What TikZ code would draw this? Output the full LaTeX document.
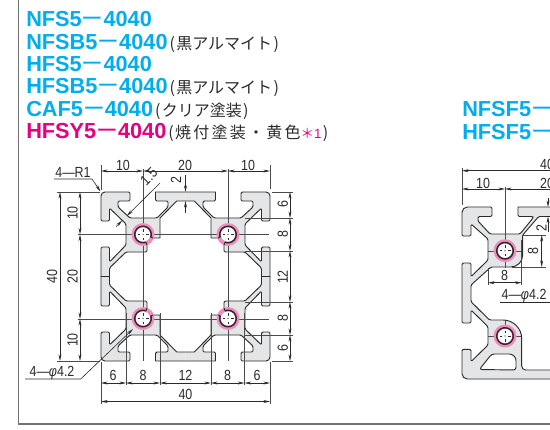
\documentclass[tikz,border=0pt]{standalone}
\usepackage{fontspec}
\usetikzlibrary{arrows.meta}
\setmainfont{Liberation Sans}
\newfontfamily\cjk{Noto Sans CJK JP}
\newfontfamily\dimf[FakeStretch=0.85]{Liberation Sans}
\definecolor{cy}{HTML}{00AEEF}
\definecolor{mg}{HTML}{E6007E}
\definecolor{prof}{HTML}{E4E5E6}
\definecolor{ink}{HTML}{2B2B2B}
\definecolor{pk}{HTML}{F28CBE}
\newcommand{\dd}{{\cjk\mdseries ー}}
\newcommand{\jp}[1]{\kern1.5pt{\cjk\mdseries\fontsize{12}{13}\selectfont\color{ink}(\kern1pt#1\kern1pt)}}
\newcommand{\ks}{\kern1.7pt}
\tikzset{
  x=0.75pt,y=-0.75pt,
  ttl/.style={anchor=base west,inner sep=0pt,text=cy,font=\bfseries\fontsize{16.3}{18}\selectfont},
  dimt/.style={inner sep=0pt,text=ink,font=\dimf\fontsize{11}{12}\selectfont},
  pline/.style={draw=ink,line width=0.7pt,line join=round},
  dl/.style={draw=ink,line width=0.45pt},
  ar/.style={dl,{Stealth[length=5pt,width=2.2pt]}-{Stealth[length=5pt,width=2.2pt]}},
  a1/.style={dl,-{Stealth[length=5pt,width=2.2pt]}},
  ext/.style={draw=ink!85,line width=0.35pt},
  box/.style={draw=black!55,line width=0.9pt}
}
\newcommand{\quadpath}{
  (185.5,192) -- (155.5,192) [rounded corners=1pt] -- (155.5,201) -- (168,201) -- (168,207) -- (157,218) -- (130,218) -- (118,207) -- (118,201) -- (130,201) -- (130,192) [rounded corners=3pt] -- (101,192) [rounded corners=1pt] -- (101,221) -- (109.5,221) -- (109.5,208) -- (126,224) -- (126,245) -- (109.5,262) -- (109.5,247) -- (101,247) [sharp corners] -- (101,276.5) -- (109.5,276.5) [rounded corners=1pt] -- (109.5,268) -- (126,252) -- (147,252) [sharp corners] -- (147,245)
}
\newcommand{\quadfill}{\fill[prof] \quadpath -- (153,238) -- (160,238) -- (160,218) -- (176.7,201) -- (185.5,201) -- cycle;}
\newcommand{\quadline}{\draw[pline] \quadpath; \draw[pline] (153,238) -- (160,238) -- (160,218) -- (176.7,201) -- (185.5,201);}
\newcommand{\holegeneric}[4]{% cx cy startangle endangle
  \fill[pk] (#1,#2) circle[radius=8.6pt];
  \fill[white] (#1,#2) circle[radius=5.4pt];
  \draw[ink,line width=0.35pt] ({#1-5.5},#2) -- ({#1-3},#2) ({#1+3},#2) -- ({#1+5.5},#2) (#1,{#2-5.5}) -- (#1,{#2-3}) (#1,{#2+3}) -- (#1,{#2+5.5});
  \fill[ink] (#1,#2) circle[radius=0.5pt];
  \draw[ink,line width=1.1pt] plot[domain=#3:#4,samples=40] ({#1+8.2*cos(\x)},{#2+8.2*sin(\x)});
}
\newcommand{\allfour}[1]{%
  \begin{scope}#1\end{scope}
  \begin{scope}[shift={(371,0)},xscale=-1]#1\end{scope}
  \begin{scope}[shift={(0,553)},yscale=-1]#1\end{scope}
  \begin{scope}[shift={(371,553)},xscale=-1,yscale=-1]#1\end{scope}
}
\begin{document}
\begin{tikzpicture}
\clip (0,0) rectangle (550,429);
\fill[white] (0,0) rectangle (550,429);
% frame
\draw[box] (18.5,-2) -- (18.5,424) -- (552,424);
% titles
\node[ttl] (t1) at (26,26.7) {NFS5\dd 4040};
\node[ttl] (t2) at (26,49) {NFSB5\dd 4040\jp{黒アルマイト}};
\node[ttl] (t3) at (26,71.4) {HFS5\dd 4040};
\node[ttl] (t4) at (26,93.8) {HFSB5\dd 4040\jp{黒アルマイト}};
\node[ttl] (t5) at (26,116.2) {CAF5\dd 4040\jp{クリア塗装}};
\node[ttl,text=mg] (t6) at (26,138.6) {HFSY5\dd 4040\jp{焼\ks 付\ks 塗\ks 装\ks ・\ks 黄\ks 色{\color{mg}\fontsize{10}{11}\selectfont ＊}{\fontspec{Liberation Sans}\color{mg}\fontsize{10}{11}\selectfont 1}}};
\node[ttl] (t7) at (462,116.7) {NFSF5\dd 4040};
\node[ttl] (t8) at (462,139.3) {HFSF5\dd 4040};
% left profile
\allfour{\quadfill}
\allfour{\quadline}
% extension / centre lines
\draw[ext] (143,169) -- (143,361) (228,169) -- (228,361);
\draw[ext] (78,234.5) -- (269,234.5) (78,319) -- (269,319);
\draw[ext] (101,165) -- (101,190) (270,165) -- (270,189);
\draw[ext] (57,192) -- (100,192) (57,361) -- (100,361);
\draw[ext] (272,192) -- (293,192) (272,361) -- (293,361);
\draw[ext] (245,218) -- (293,218) (245,251) -- (293,251) (245,302) -- (293,302) (245,335) -- (293,335);
\draw[ext] (126,313) -- (126,385) (160,313) -- (160,385) (211,313) -- (211,385) (244.5,313) -- (244.5,385);
\draw[ext] (101,362) -- (101,404) (270,362) -- (270,404);
% holes
\allfour{\holegeneric{143}{234.5}{69}{379}
  \draw[ink,line width=0.7pt] (145.9,242) -- (147,245) (150.6,237) -- (153,238);}
% dims top
\draw[ar] (101,171) -- (143,171);
\draw[ar] (143,171) -- (228,171);
\draw[ar] (228,171) -- (270,171);
\node[dimt] (n10a) at (123,165) {10};
\node[dimt] (n20a) at (185,165) {20};
\node[dimt] (n10b) at (248,165) {10};
% 4-R1
\node[dimt] (r1) at (73,172) {4—R1};
\draw[a1] (54,179) -- (92,179) -- (100.5,191.5);
% left dims
\draw[ar] (60,192) -- (60,361);
\draw[ar] (80,192) -- (80,234.5);
\draw[ar] (80,234.5) -- (80,319);
\draw[ar] (80,319) -- (80,361);
\node[dimt,rotate=90] (n40l) at (52,276.5) {40};
\node[dimt,rotate=90] (n10l) at (72.5,213) {10};
\node[dimt,rotate=90] (n20l) at (72.5,276.5) {20};
\node[dimt,rotate=90] (n10m) at (72.5,340) {10};
% 1.5
\draw[a1] (116,226.7) -- (122.1,220.6);
\draw[a1] (160,183) -- (126.85,215.85);
\node[dimt,rotate=45] (n15) at (149,176.5) {1.5};
% 2
\draw[a1] (185.5,175) -- (185.5,192);
\draw[a1] (185.5,213) -- (185.5,201);
\node[dimt,rotate=90] (n2) at (176,180) {2};
% right dims
\draw[ar] (290,192) -- (290,218);
\draw[ar] (290,218) -- (290,251);
\draw[ar] (290,251) -- (290,302);
\draw[ar] (290,302) -- (290,335);
\draw[ar] (290,335) -- (290,361);
\node[dimt,rotate=90] (r6a) at (282.7,204) {6};
\node[dimt,rotate=90] (r8a) at (282.7,234) {8};
\node[dimt,rotate=90] (r12) at (282.7,277) {12};
\node[dimt,rotate=90] (r8b) at (282.7,318) {8};
\node[dimt,rotate=90] (r6b) at (282.7,348.5) {6};
% bottom dims
\draw[ar] (101,383) -- (126,383);
\draw[ar] (126,383) -- (160,383);
\draw[ar] (160,383) -- (211,383);
\draw[ar] (211,383) -- (244.5,383);
\draw[ar] (244.5,383) -- (270,383);
\draw[ar] (101,401.5) -- (270,401.5);
\node[dimt] (b6a) at (113,375) {6};
\node[dimt] (b8a) at (143,375) {8};
\node[dimt] (b12) at (185.5,375) {12};
\node[dimt] (b8b) at (227.5,375) {8};
\node[dimt] (b6b) at (257,375) {6};
\node[dimt] (b40) at (185.5,394) {40};
% 4-phi4.2
\node[dimt] (phi) at (52,373) {4—\textit{φ}4.2};
\draw[a1] (25,379) -- (80.7,379) -- (133,329);
%
% right profile
\fill[prof] (560,207) -- (518,207) [rounded corners=1pt] -- (518,216.5) -- (533,216.5) -- (533,218) -- (520,234) -- (490,234) -- (478,221) -- (478,216.5) -- (492,216.5) -- (492,207) [rounded corners=4pt] -- (462,207) [rounded corners=1pt] -- (462,236) -- (471,236) -- (471,224) -- (488,239) -- (488,260) -- (471,276.7) -- (471,263) -- (462,263) -- (462,323) -- (471,323) -- (471,310) -- (488,326.7) -- (488,345) -- (471,361.7) -- (471,349.3) -- (462,349.3) [rounded corners=4pt] -- (462,379) -- (560,379) -- cycle;
\fill[white,rounded corners=1pt] (560,216.5) -- (538.7,216.5) -- (522.7,235) [rounded corners=9pt] -- (522.7,267) [rounded corners=1pt] -- (491,267) -- (471,285) -- (471,301.7) -- (489.5,320) [rounded corners=14pt] -- (521.7,320) [rounded corners=3pt] -- (521.7,370) -- (560,370) -- cycle;
\draw[pline] (560,207) -- (518,207) [rounded corners=1pt] -- (518,216.5) -- (533,216.5) -- (533,218) -- (520,234) -- (490,234) -- (478,221) -- (478,216.5) -- (492,216.5) -- (492,207) [rounded corners=4pt] -- (462,207) [rounded corners=1pt] -- (462,236) -- (471,236) -- (471,224) -- (488,239) -- (488,260) -- (471,276.7) -- (471,263) -- (462,263) -- (462,323) -- (471,323) -- (471,310) -- (488,326.7) -- (488,345) -- (471,361.7) -- (471,349.3) -- (462,349.3) [rounded corners=4pt] -- (462,379) -- (560,379);
\draw[pline,rounded corners=1pt] (560,216.5) -- (538.7,216.5) -- (522.7,235) [rounded corners=9pt] -- (522.7,267) [rounded corners=1pt] -- (491,267) -- (471,285) -- (471,301.7) -- (489.5,320) [rounded corners=14pt] -- (521.7,320) [rounded corners=3pt] -- (521.7,370) -- (560,370);
\fill[white,rounded corners=2pt] (479.3,369.5) -- (491.7,354) -- (512,354) -- (516,358) -- (516,370) -- cycle;
\draw[pline,rounded corners=2pt] (479.3,369.5) -- (491.7,354) -- (512,354) -- (516,358) -- (516,370) -- cycle;
% right extension lines
\draw[ext] (505,187) -- (505,268) (488,251) -- (522,251);
\draw[ext] (505,320) -- (505,347) (488,336) -- (521,336);
\draw[ext] (462,168) -- (462,205);
\draw[ext] (488,268) -- (488,285) (521.7,240) -- (521.7,285);
\draw[ext] (522,235) -- (546,235) (512,267) -- (546,267);
% right holes
\holegeneric{505}{250.7}{0}{360}
\holegeneric{505}{336}{0}{360}
% right dims
\draw[a1] (555,170.7) -- (462,170.7);
\draw[ar] (462,189) -- (505,189);
\draw[a1] (555,189) -- (505,189);
\node[dimt] (q40) at (547,164) {40};
\node[dimt] (q10) at (483,183) {10};
\node[dimt] (q20) at (547,183) {20};
\draw[a1] (548,198) -- (548,207);
\draw[a1] (548,232) -- (548,216.5);
\node[dimt,rotate=90] (q2) at (541.5,228) {2};
\draw[ar] (541.7,235) -- (541.7,267);
\node[dimt,rotate=90] (q8) at (533,250.7) {8};
\draw[ar] (488,282.7) -- (521.7,282.7);
\node[dimt] (q8b) at (504.5,275.7) {8};
\node[dimt] (qphi) at (524,296) {4—\textit{φ}4.2};
\draw[dl] (500,302.7) -- (552,302.7);
\end{tikzpicture}
\end{document}
